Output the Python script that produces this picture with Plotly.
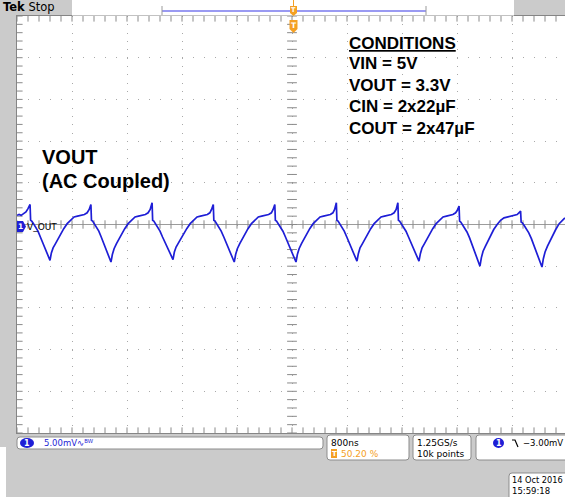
import numpy as np
import plotly.graph_objects as go

# ripple trace: time in ns (trigger at 0), voltage in mV (AC coupled)
time_ns = [
	-4000, -3970, -3940, -3900, -3870, -3840, -3810,
	-3802, -3785, -3760, -3730, -3695, -3660, -3625, -3590, -3560, -3537, -3520,
	-3500, -3475, -3440, -3400, -3360, -3320, -3270, -3220, -3170, -3120, -3070, -3020, -2980, -2950, -2925,
	-2917, -2900, -2875, -2845, -2810, -2775, -2740, -2705, -2675, -2650, -2633,
	-2613, -2588, -2553, -2513, -2473, -2433, -2383, -2333, -2283, -2233, -2183, -2133, -2093, -2063, -2035,
	-2027, -2010, -1985, -1955, -1920, -1883, -1846, -1809, -1778, -1750, -1731,
	-1711, -1686, -1651, -1611, -1571, -1531, -1481, -1431, -1381, -1331, -1281, -1231, -1195, -1170, -1145,
	-1137, -1120, -1095, -1065, -1030, -992, -955, -918, -887, -860, -840,
	-820, -795, -760, -720, -680, -640, -590, -540, -490, -440, -390, -340, -300, -275, -250,
	-242, -225, -200, -168, -132, -95, -57, -20, 12, 38, 58,
	78, 103, 138, 178, 218, 258, 308, 358, 408, 458, 508, 558, 595, 620, 645,
	653, 670, 695, 725, 760, 797, 833, 868, 899, 925, 945,
	965, 990, 1025, 1065, 1105, 1145, 1195, 1245, 1295, 1345, 1395, 1445, 1485, 1515, 1540,
	1548, 1565, 1590, 1622, 1658, 1695, 1732, 1770, 1800, 1827, 1847,
	1867, 1892, 1927, 1967, 2007, 2047, 2097, 2147, 2197, 2247, 2297, 2340, 2380, 2405, 2430,
	2438, 2455, 2480, 2510, 2545, 2583, 2620, 2657, 2688, 2714, 2734,
	2754, 2779, 2814, 2854, 2894, 2934, 2984, 3034, 3084, 3134, 3184, 3234, 3275, 3300, 3325,
	3333, 3350, 3375, 3408, 3444, 3482, 3520, 3558, 3590, 3616, 3636,
	3656, 3681, 3716, 3756, 3796, 3836, 3886, 3930, 3970,
]
vout_mv = [
	1.1, 1.2, 1.1, 1.3, 1.5, 1.9, 2.4,
	0.5, 0.4, 0.1, -0.3, -0.8, -1.5, -2.2, -2.9, -3.5, -4.0, -4.3,
	-3.4, -2.8, -2.3, -1.7, -1.0, -0.5, 0.1, 0.5, 0.9, 1.0, 1.1, 1.2, 1.4, 1.8, 2.4,
	0.5, 0.4, 0.1, -0.3, -0.8, -1.5, -2.2, -2.9, -3.5, -4.0, -4.5,
	-3.6, -2.9, -2.3, -1.7, -1.0, -0.5, 0.1, 0.5, 0.9, 1.0, 1.1, 1.2, 1.4, 1.8, 2.6,
	0.5, 0.4, 0.1, -0.3, -0.8, -1.5, -2.2, -2.9, -3.5, -3.9, -4.2,
	-3.3, -2.7, -2.2, -1.6, -1.0, -0.5, 0.1, 0.5, 0.9, 1.0, 1.1, 1.2, 1.4, 1.8, 2.4,
	0.5, 0.4, 0.1, -0.3, -0.8, -1.5, -2.2, -2.9, -3.5, -4.0, -4.5,
	-3.6, -2.9, -2.3, -1.7, -1.0, -0.5, 0.1, 0.5, 0.9, 1.0, 1.1, 1.2, 1.4, 1.8, 2.4,
	0.5, 0.4, 0.1, -0.3, -0.8, -1.5, -2.2, -2.9, -3.5, -4.0, -4.5,
	-3.6, -2.9, -2.3, -1.7, -1.0, -0.5, 0.1, 0.5, 0.9, 1.0, 1.1, 1.2, 1.4, 1.8, 2.6,
	0.5, 0.4, 0.1, -0.3, -0.8, -1.5, -2.2, -2.9, -3.5, -4.0, -4.4,
	-3.5, -2.8, -2.3, -1.7, -1.0, -0.5, 0.1, 0.5, 0.9, 1.0, 1.1, 1.2, 1.4, 1.8, 2.6,
	0.5, 0.4, 0.1, -0.3, -0.8, -1.5, -2.2, -2.9, -3.5, -4.0, -4.4,
	-3.5, -2.8, -2.3, -1.7, -1.0, -0.5, 0.1, 0.5, 0.9, 1.0, 1.1, 1.2, 1.4, 1.7, 2.2,
	0.4, 0.3, 0.0, -0.4, -0.9, -1.6, -2.4, -3.1, -3.8, -4.4, -5.0,
	-4.0, -3.2, -2.6, -1.9, -1.2, -0.6, 0.0, 0.5, 0.8, 0.9, 1.0, 1.1, 1.2, 1.4, 1.6,
	0.3, 0.2, -0.1, -0.5, -1.0, -1.7, -2.5, -3.3, -4.0, -4.6, -5.1,
	-4.1, -3.3, -2.6, -1.9, -1.2, -0.6, 0.1, 0.5, 0.8,
]

# scope settings shown on the display
time_per_div = 800		# ns
volts_per_div = 5.0		# mV
divisions = 10
minor_per_div = 5

conditions_title = 'CONDITIONS'
conditions = ['VIN = 5V', 'VOUT = 3.3V', 'CIN = 2x22µF', 'COUT = 2x47µF']
trace_label = ['VOUT', '(AC Coupled)']

# screen geometry (pixels) of the graticule
L, T, W, H = 17, 16, 548, 417
BLUE = '#1e1ed6'
ORANGE = '#f4a024'
GRID = '#a9a9a9'
UI_FONT = 'DejaVu Sans'


def fx(x):
	return (x - L) / W


def fy(y):
	return (T + H - y) / H


def box(x0, y0, x1, y1, r=3, fill='white', line='#8c8c8c'):
	'''
	Rounded status box, given in screen pixels.
	'''
	pts = [
		('M', x0 + r, y0), ('L', x1 - r, y0), ('Q', x1, y0, x1, y0 + r), ('L', x1, y1 - r),
		('Q', x1, y1, x1 - r, y1), ('L', x0 + r, y1), ('Q', x0, y1, x0, y1 - r), ('L', x0, y0 + r),
		('Q', x0, y0, x0 + r, y0),
	]
	path = ''
	for p in pts:
		coords = p[1:]
		path += p[0] + ' '.join(f'{fx(coords[i]):.5f},{fy(coords[i + 1]):.5f}' for i in range(0, len(coords), 2)) + ' '
	return dict(type='path', path=path + 'Z', xref='paper', yref='paper', fillcolor=fill, line=dict(color=line, width=1), layer='above')


def rect(x0, y0, x1, y1, fill, line_color=None, width=0):
	return dict(type='rect', xref='paper', yref='paper', x0=fx(x0), x1=fx(x1), y0=fy(y1), y1=fy(y0),
		fillcolor=fill, line=dict(color=line_color or fill, width=width), layer='above')


def seg(x0, y0, x1, y1, color, width=1):
	return dict(type='line', xref='paper', yref='paper', x0=fx(x0), x1=fx(x1), y0=fy(y0), y1=fy(y1),
		line=dict(color=color, width=width), layer='above')


def oval(x0, y0, x1, y1, fill):
	return dict(type='circle', xref='paper', yref='paper', x0=fx(x0), x1=fx(x1), y0=fy(y1), y1=fy(y0),
		fillcolor=fill, line=dict(color=fill, width=0), layer='above')


def poly(points, fill):
	path = 'M' + ' L'.join(f'{fx(x):.5f},{fy(y):.5f}' for x, y in points) + ' Z'
	return dict(type='path', path=path, xref='paper', yref='paper', fillcolor=fill, line=dict(color=fill, width=0), layer='above')


def text(x, y, s, size=9, color='black', family=UI_FONT, anchor='left', **font):
	return dict(x=fx(x), y=fy(y), xref='paper', yref='paper', text=s, showarrow=False, xanchor=anchor,
		yanchor='middle', borderpad=0, font=dict(size=size, color=color, family=family, **font))


# axis extents (the screenshot crops the graticule 2 px before its right edge)
x_half = divisions / 2 * time_per_div
y_half = divisions / 2 * volts_per_div
x_right = -x_half + (W / 55) * time_per_div
x_minor = np.arange(-x_half, x_half + 1, time_per_div / minor_per_div)
y_minor = np.arange(-y_half, y_half + 0.01, volts_per_div / minor_per_div)

fig = go.Figure()

# graticule tick marks along the centre lines and the edges
tick = dict(color='#8a8a8a', width=1)
fig.add_trace(go.Scatter(x=x_minor, y=np.zeros_like(x_minor), mode='markers',
	marker=dict(symbol='line-ns', size=6, line=tick), hoverinfo='skip'))
fig.add_trace(go.Scatter(x=np.zeros_like(y_minor), y=y_minor, mode='markers',
	marker=dict(symbol='line-ew', size=7, line=tick), hoverinfo='skip'))
for yy in (-y_half, y_half):
	fig.add_trace(go.Scatter(x=x_minor, y=np.full_like(x_minor, yy), mode='markers',
		marker=dict(symbol='line-ns', size=8, line=tick), hoverinfo='skip'))
fig.add_trace(go.Scatter(x=np.full_like(y_minor, -x_half), y=y_minor, mode='markers',
	marker=dict(symbol='line-ew', size=8, line=tick), hoverinfo='skip'))

# the waveform
fig.add_trace(go.Scatter(x=time_ns, y=vout_mv, mode='lines', line=dict(color=BLUE, width=1.7), hoverinfo='skip'))

fig.update_xaxes(
	range=[-x_half, x_right], dtick=time_per_div, tick0=0, showgrid=True, gridcolor=GRID, griddash='1px,7.34px',
	zeroline=False, showticklabels=False, ticks='', showline=True, linecolor='#858585', linewidth=1, mirror=True,
	fixedrange=True,
)
fig.update_yaxes(
	range=[-y_half, y_half], dtick=volts_per_div, tick0=0, showgrid=True, gridcolor=GRID, griddash='1px,10px',
	zeroline=True, zerolinecolor='#9c9c9c', zerolinewidth=1, showticklabels=False, ticks='', showline=True,
	linecolor='#858585', linewidth=1, mirror=True, fixedrange=True,
)

shapes = [
	# top bar
	rect(72, 0, 514, 15.5, 'white'),
	rect(0, 447, 6, 497, 'white'),
	seg(162, 11, 426, 11, '#9a9af2', 2),
	seg(162, 6, 162, 15, '#9a9a9a', 1),
	seg(426, 6, 426, 15, '#9a9a9a', 1),
	seg(293.5, 0, 293.5, 7, ORANGE, 1),
	poly([(290, 6), (297, 6), (297, 13), (293.5, 16), (290, 13)], ORANGE),
	# trigger position marker under the top edge
	poly([(289.5, 20), (297.5, 20), (297.5, 29), (293.5, 33), (289.5, 29)], ORANGE),
	# channel 1 ground marker
	poly([(17, 221), (23, 221), (26, 226.5), (23, 232), (17, 232)], BLUE),
	# status boxes
	box(17, 437, 323, 449),
	oval(20, 438, 34, 448, BLUE),
	box(327, 435, 409, 460),
	rect(331, 449, 337, 458, ORANGE),
	box(413, 435, 471, 460),
	box(476, 435, 575, 460),
	oval(493, 438, 504, 448, BLUE),
	box(509, 473, 575, 505),
]
# falling edge symbol
shapes.append(dict(type='path', xref='paper', yref='paper', layer='above', line=dict(color='black', width=1.2),
	path=f'M{fx(512):.5f},{fy(440):.5f} L{fx(515):.5f},{fy(440):.5f} L{fx(518):.5f},{fy(447):.5f}'))

annotations = [
	dict(x=fx(1), y=fy(7.5), xref='paper', yref='paper', showarrow=False, xanchor='left', yanchor='middle',
		text='<b>Tek</b> Stop', font=dict(size=11.5, color='black', family=UI_FONT)),
	text(293.5, 26, '<b>T</b>', size=7.5, color='white', anchor='center'),
	text(293.5, 10, '<b>T</b>', size=6.5, color='white', anchor='center'),
	text(20.5, 226.5, '<b>1</b>', size=7.5, color='white', anchor='center'),
	text(26, 227.5, 'V_OUT', size=9, color='black'),
	text(27, 443, '<b>1</b>', size=8, color='white', anchor='center'),
	text(43, 443, '5.00mV∿ᴮᵂ', size=8.5, color=BLUE),
	text(330, 443, '800ns', size=9),
	text(334, 454, '<b>T</b>', size=7, color='white', anchor='center'),
	text(340, 454, '50.20 %', size=9, color=ORANGE),
	text(416, 443, '1.25GS/s', size=9),
	text(416, 454, '10k points', size=9),
	text(498.5, 443, '<b>1</b>', size=8, color='white', anchor='center'),
	text(522, 443, '−3.00mV', size=8.5),
	text(511, 480, '14 Oct 2016', size=8.2),
	text(511, 491, '15:59:18', size=8.5),
	# on-screen notes
	text(41, 157, f'<b>{trace_label[0]}</b>', size=20, family='Liberation Sans'),
	text(41, 181, f'<b>{trace_label[1]}</b>', size=20, family='Liberation Sans'),
	text(348, 43, f'<b>{conditions_title}</b>', size=17, family='Liberation Sans', lineposition='under'),
]
for i, c in enumerate(conditions):
	annotations.append(text(348, 64 + 21.5 * i, f'<b>{c}</b>', size=17, family='Liberation Sans'))

fig.update_layout(
	width=565, height=497, margin=dict(l=L, r=565 - L - W, t=T, b=497 - T - H),
	paper_bgcolor='#cbcbcb', plot_bgcolor='white', showlegend=False,
	shapes=shapes, annotations=annotations,
)

# the page is photographed at exactly the figure size, so drop the default body margin
fig.write_html(
	'out.html',
	config={'displayModeBar': False, 'staticPlot': True},
	post_script="document.body.style.margin='0';document.body.style.overflow='hidden';",
)
